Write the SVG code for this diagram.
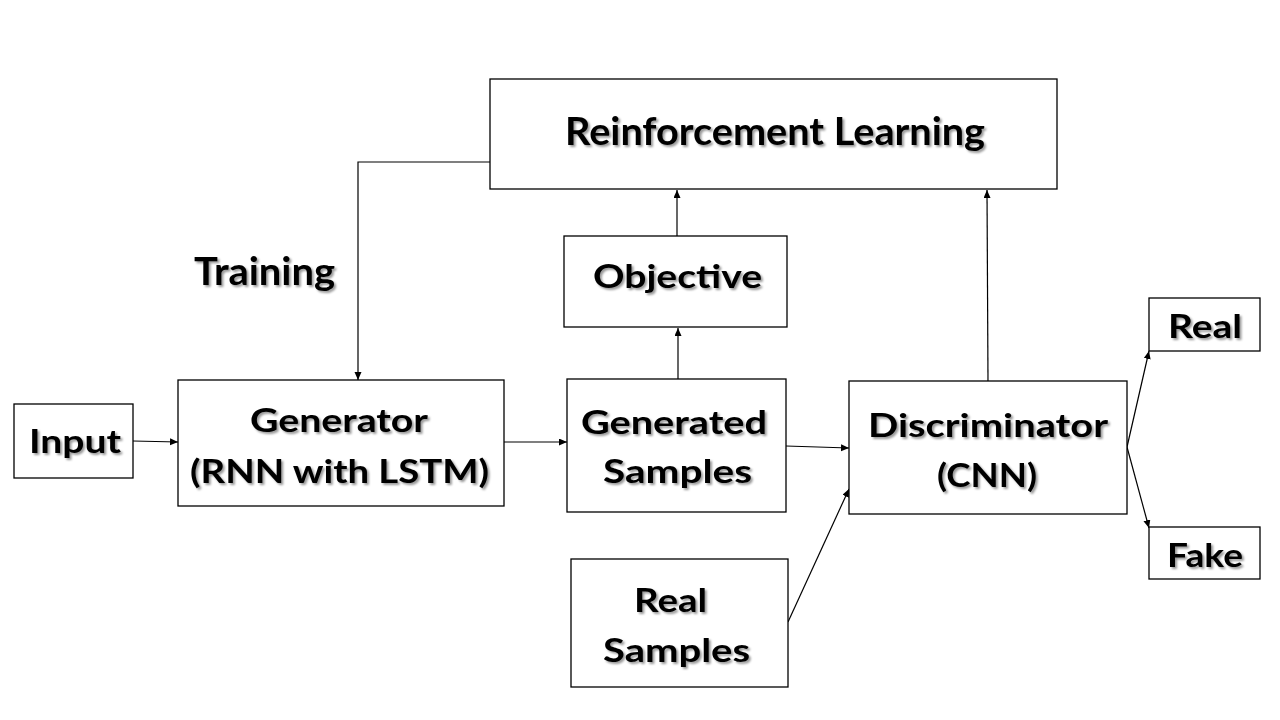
<svg xmlns="http://www.w3.org/2000/svg" width="1280" height="720" viewBox="0 0 1280 720">
<style>
  .box { fill: #ffffff; stroke: #000000; stroke-width: 1.3; }
  .lbl { font-family: Lato, "Open Sans", "Liberation Sans", sans-serif; font-weight: bold; fill: #000000; filter: url(#shadow); }
  .big { font-size: 37.5px; }
  .med { font-size: 33px; }
  .conn { fill: none; stroke: #000000; stroke-width: 1.2; marker-end: url(#arrow); }
  .plain { fill: none; stroke: #000000; stroke-width: 1.2; }
</style>
<defs>
  <filter id="shadow" x="-10%" y="-20%" width="130%" height="150%">
    <feDropShadow dx="2" dy="2" stdDeviation="1.2" flood-color="#000000" flood-opacity="0.4"/>
  </filter>
  <marker id="arrow" markerUnits="userSpaceOnUse" markerWidth="9" markerHeight="8" refX="8" refY="3.5" orient="auto">
    <path d="M0,0 L8,3.5 L0,7 z" fill="#000000"/>
  </marker>
</defs>
<rect width="1280" height="720" fill="#ffffff"/>

<g id="connectors">
  <polyline class="conn" points="490,162 358,162 358,380"/>
  <line class="conn" x1="677" y1="236" x2="677" y2="190"/>
  <line class="conn" x1="678" y1="379" x2="678" y2="328"/>
  <line class="conn" x1="988" y1="381" x2="987" y2="190"/>
  <line class="conn" x1="133" y1="441" x2="178" y2="442"/>
  <line class="conn" x1="504" y1="442" x2="567" y2="442"/>
  <line class="conn" x1="786" y1="446" x2="849" y2="448"/>
  <line class="conn" x1="788" y1="622" x2="849" y2="489"/>
  <line class="conn" x1="1127" y1="447" x2="1149" y2="351"/>
  <line class="conn" x1="1127" y1="447" x2="1149" y2="528"/>
</g>

<g id="reinforcement-learning">
  <rect class="box" x="490" y="79" width="567" height="110"/>
  <text class="lbl big" x="565" y="145" textLength="420" lengthAdjust="spacingAndGlyphs">Reinforcement Learning</text>
</g>

<g id="training-label">
  <text class="lbl big" x="194" y="285" textLength="141" lengthAdjust="spacingAndGlyphs">Training</text>
</g>

<g id="objective">
  <rect class="box" x="564" y="236" width="223" height="91"/>
  <text class="lbl med" x="593" y="288" textLength="169" lengthAdjust="spacingAndGlyphs">Objective</text>
</g>

<g id="input">
  <rect class="box" x="14" y="404" width="119" height="74"/>
  <text class="lbl med" x="29" y="453" textLength="92" lengthAdjust="spacingAndGlyphs">Input</text>
</g>

<g id="generator">
  <rect class="box" x="178" y="380" width="326" height="126"/>
  <text class="lbl med" x="250" y="432" textLength="178" lengthAdjust="spacingAndGlyphs">Generator</text>
  <text class="lbl med" x="190" y="483" textLength="299" lengthAdjust="spacingAndGlyphs">(RNN with LSTM)</text>
</g>

<g id="generated-samples">
  <rect class="box" x="567" y="379" width="219" height="133"/>
  <text class="lbl med" x="581" y="434" textLength="186" lengthAdjust="spacingAndGlyphs">Generated</text>
  <text class="lbl med" x="603" y="483" textLength="149" lengthAdjust="spacingAndGlyphs">Samples</text>
</g>

<g id="real-samples">
  <rect class="box" x="571" y="559" width="217" height="128"/>
  <text class="lbl med" x="634" y="612" textLength="73" lengthAdjust="spacingAndGlyphs">Real</text>
  <text class="lbl med" x="603" y="662" textLength="147" lengthAdjust="spacingAndGlyphs">Samples</text>
</g>

<g id="discriminator">
  <rect class="box" x="849" y="381" width="278" height="133"/>
  <text class="lbl med" x="868" y="437" textLength="240" lengthAdjust="spacingAndGlyphs">Discriminator</text>
  <text class="lbl med" x="937" y="487" textLength="100" lengthAdjust="spacingAndGlyphs">(CNN)</text>
</g>

<g id="real">
  <rect class="box" x="1149" y="298" width="111" height="53"/>
  <text class="lbl med" x="1168" y="338" textLength="74" lengthAdjust="spacingAndGlyphs">Real</text>
</g>

<g id="fake">
  <rect class="box" x="1149" y="527" width="111" height="52"/>
  <text class="lbl med" x="1167" y="567" textLength="76" lengthAdjust="spacingAndGlyphs">Fake</text>
</g>
</svg>
